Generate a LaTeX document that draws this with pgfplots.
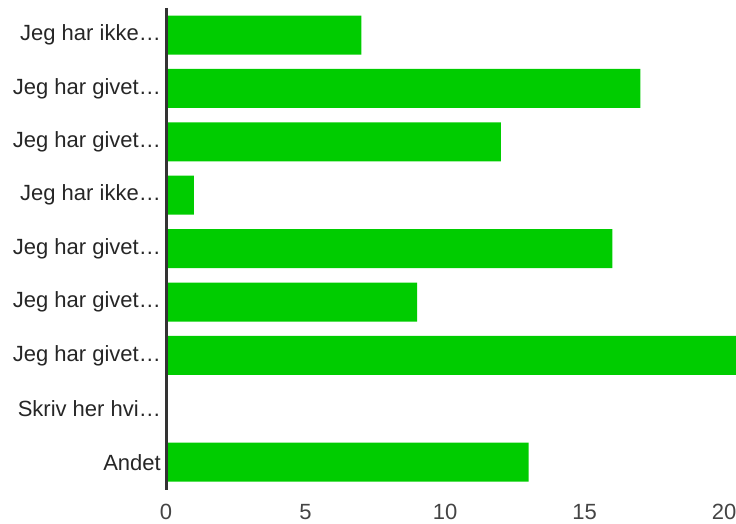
\documentclass[border=0pt]{standalone}
\usepackage{pgfplots}
\pgfplotsset{compat=1.18}
\usepackage{fontspec}
\setmainfont{Liberation Sans}
\definecolor{bargreen}{HTML}{00CC00}
\definecolor{axisgray}{HTML}{333333}
\definecolor{labelgray}{HTML}{444444}
\begin{document}
\begin{tikzpicture}[x=1pt,y=1pt]
\begin{axis}[
  name=ax,
  at={(166pt,34pt)}, anchor=south west,
  scale only axis,
  width=570pt, height=482pt,
  xbar, bar width=0.73,
  xmin=0, xmax=20.43,
  ymin=-0.506, ymax=8.52,
  y dir=reverse,
  axis lines*=left,
  axis on top,
  x axis line style={draw=none},
  y axis line style={draw=axisgray, line width=3pt},
  major tick length=0pt,
  xtick={0,5,10,15,20},
  ytick={0,1,2,3,4,5,6,7,8},
  yticklabels={Jeg har ikke…,Jeg har givet…,Jeg har givet…,Jeg har ikke…,Jeg har givet…,Jeg har givet…,Jeg har givet…,Skriv her hvi…,Andet},
  tick label style={font=\fontsize{22}{25}\selectfont, text=labelgray, inner sep=0pt},
  yticklabel style={text=black!85, xshift=-5pt},
  xticklabel style={yshift=-14pt},
  /pgf/number format/assume math mode=true,
  clip=true,
]
\addplot[fill=bargreen, draw=none] coordinates {
  (7,0) (17,1) (12,2) (1,3) (16,4) (9,5) (21,6) (0,7) (13,8)
};
\end{axis}
\pgfresetboundingbox
\path[use as bounding box] (0,0) rectangle (736pt,524pt);
\end{tikzpicture}
\end{document}
